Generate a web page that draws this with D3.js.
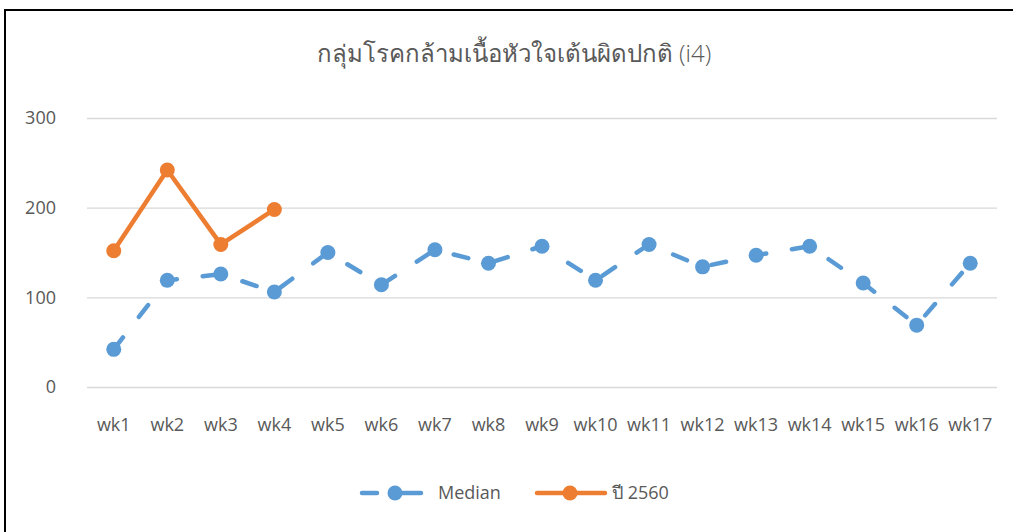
<!DOCTYPE html>
<html><head><meta charset="utf-8">
<script src="https://cdn.jsdelivr.net/npm/d3@7"></script>
<style>
body{margin:0;background:#fff;}
text{font-family:"Open Sans","Noto Sans","DejaVu Sans",sans-serif;fill:#595959;}
</style></head>
<body><svg id="c" width="1013" height="532"></svg>
<script>
const categories = ["wk1","wk2","wk3","wk4","wk5","wk6","wk7","wk8","wk9","wk10","wk11","wk12","wk13","wk14","wk15","wk16","wk17"];
const medianValues = [42,119,126,106,150,114,153,138,157,119,159,134,147,157,116,69,138];
const y2560Values = [152,242,159,198];
const yTicks = [0,100,200,300];
const seriesNames = ["Median","ปี 2560"];
const titleText = "กลุ่มโรคกล้ามเนื้อหัวใจเต้นผิดปกติ (i4)";

const svg = d3.select("#c");
const blue = "#5B9BD5", orange = "#ED7D31";

// border (top and left)
svg.append("line").attr("x1",5).attr("x2",1013).attr("y1",10).attr("y2",10).attr("stroke","#000").attr("stroke-width",2);
svg.append("line").attr("x1",5).attr("x2",5).attr("y1",9).attr("y2",532).attr("stroke","#000").attr("stroke-width",2);

const x = d3.scaleBand().domain(categories).range([87,997]);
const y = d3.scaleLinear().domain([0,300]).range([387,118]);
const cx = d => x(d) + x.bandwidth()/2;

// title
svg.append("text").attr("x",514).attr("y",62).attr("text-anchor","middle")
  .style("font-size","24px").style("font-weight","300").text(titleText);

// gridlines
const yAxis = d3.axisLeft(y).tickValues(yTicks).tickSize(-(997-87)).tickPadding(31);
const gy = svg.append("g").attr("transform","translate(87,0)").call(yAxis);
gy.select(".domain").remove();
gy.selectAll(".tick line").attr("stroke","#D9D9D9").attr("stroke-width",1.3);
gy.selectAll(".tick text").style("font-size","18px").attr("fill","#595959");

// x axis labels
const xAxis = d3.axisBottom(x).tickSize(0).tickPadding(31);
const gx = svg.append("g").attr("transform","translate(0,387)").call(xAxis);
gx.select(".domain").remove();
gx.selectAll(".tick text").style("font-size","18px").attr("fill","#595959");

const line = d3.line().x((d,i)=>cx(categories[i])).y(d=>y(d));

// median
svg.append("path").datum(medianValues).attr("d",line).attr("fill","none")
  .attr("stroke",blue).attr("stroke-width",4.5).attr("stroke-linecap","round")
  .attr("stroke-dasharray","15,26");
svg.selectAll(".mm").data(medianValues).enter().append("circle")
  .attr("cx",(d,i)=>cx(categories[i])).attr("cy",d=>y(d)).attr("r",7.5).attr("fill",blue);

// 2560
svg.append("path").datum(y2560Values).attr("d",line).attr("fill","none")
  .attr("stroke",orange).attr("stroke-width",4.5).attr("stroke-linejoin","round").attr("stroke-linecap","round");
svg.selectAll(".mo").data(y2560Values).enter().append("circle")
  .attr("cx",(d,i)=>cx(categories[i])).attr("cy",d=>y(d)).attr("r",7.5).attr("fill",orange);

// legend
const lg = [
  {name:seriesNames[0], color:blue, x1:360, x2:423, mx:395, tx:438, dash:true},
  {name:seriesNames[1], color:orange, x1:535, x2:607, mx:570, tx:612, dash:false}
];
const ly = 493;
lg.forEach(l=>{
  if(l.dash){
    svg.append("line").attr("x1",l.x1+2).attr("x2",l.x1+17).attr("y1",ly).attr("y2",ly)
      .attr("stroke",l.color).attr("stroke-width",4.5).attr("stroke-linecap","round");
    svg.append("line").attr("x1",l.mx).attr("x2",l.x2-2).attr("y1",ly).attr("y2",ly)
      .attr("stroke",l.color).attr("stroke-width",4.5).attr("stroke-linecap","round");
  } else {
    svg.append("line").attr("x1",l.x1+2).attr("x2",l.x2-2).attr("y1",ly).attr("y2",ly)
      .attr("stroke",l.color).attr("stroke-width",4.5).attr("stroke-linecap","round");
  }
  svg.append("circle").attr("cx",l.mx).attr("cy",ly).attr("r",7.5).attr("fill",l.color);
  svg.append("text").attr("x",l.tx).attr("y",ly+6).style("font-size","18px").text(l.name);
});
</script></body></html>
